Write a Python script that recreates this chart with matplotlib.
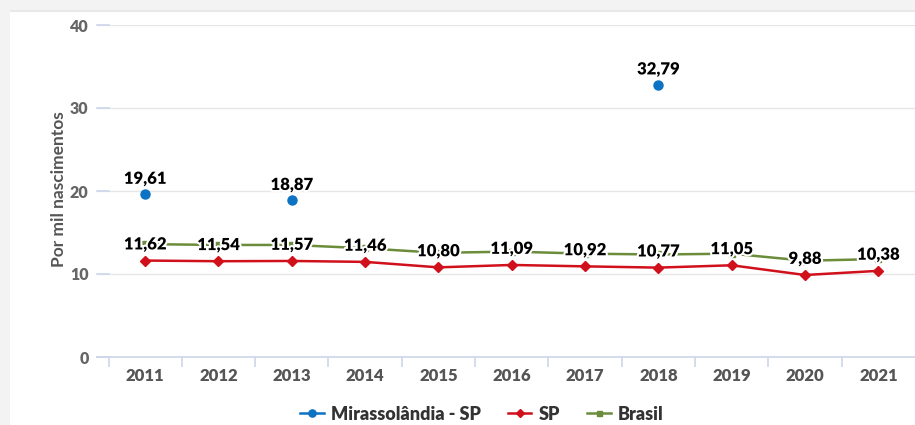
import numpy as np
import matplotlib
matplotlib.use("Agg")
import matplotlib.pyplot as plt
import matplotlib.patheffects as pe
from matplotlib.patches import Rectangle

years = ["2011", "2012", "2013", "2014", "2015", "2016", "2017", "2018", "2019", "2020", "2021"]
mirassolandia = [19.61, None, 18.87, None, None, None, None, 32.79, None, None, None]
sp = [11.62, 11.54, 11.57, 11.46, 10.80, 11.09, 10.92, 10.77, 11.05, 9.88, 10.38]
brasil = [13.6, 13.5, 13.5, 13.1, 12.55, 12.7, 12.45, 12.35, 12.45, 11.6, 11.8]
yticks = [0, 10, 20, 30, 40]

FONT = "Lato"
plt.rcParams['font.family'] = [FONT, 'DejaVu Sans']

W, H = 915, 425
fig = plt.figure(figsize=(W / 100, H / 100), dpi=100, facecolor="#f3f3f3")
fig.patches.append(Rectangle((10 / W, 0), 1, 1 - 12 / H, transform=fig.transFigure,
                             facecolor="white", edgecolor="none", zorder=-10))
fig.patches.append(Rectangle((10 / W, 1 - 12 / H), 1, 1.5 / H, transform=fig.transFigure,
                             facecolor="#e8e8e8", edgecolor="none", zorder=-10))

left_px, right_px, top_px, bot_px = 97, 915, 25, 357
ax = fig.add_axes([left_px / W, 1 - bot_px / H, (right_px - left_px) / W, (bot_px - top_px) / H])
ax.set_facecolor("none")

x = np.arange(len(years))
mir = np.array([np.nan if v is None else v for v in mirassolandia], dtype=float)

blue, red, green = "#0b72c4", "#d0101b", "#6b8c3a"

ax.plot(x, brasil, color=green, lw=1.8, marker="s", ms=4.5, zorder=3, label="Brasil")
ax.plot(x, sp, color=red, lw=1.8, marker="D", ms=5, zorder=4, label="SP")
ax.plot(x, mir, color=blue, lw=1.8, marker="o", ms=6.5, zorder=5, label="Mirassolândia - SP")

stroke = [pe.withStroke(linewidth=3, foreground="white")]

def fmt(v):
    return f"{v:.2f}".replace(".", ",")

for xi, v in zip(x, mir):
    if not np.isnan(v):
        ax.annotate(fmt(v), (xi, v), xytext=(0, 7.5), textcoords="offset points",
                    ha="center", va="baseline", fontsize=12, fontweight="heavy",
                    color="black", path_effects=stroke, zorder=7)
for xi, v in zip(x, sp):
    ax.annotate(fmt(v), (xi, v), xytext=(0, 8), textcoords="offset points",
                ha="center", va="baseline", fontsize=12, fontweight="heavy",
                color="black", path_effects=stroke, zorder=7)

pad = 11.5 / 73.3
ax.set_xlim(-0.5 - pad, len(years) - 0.5)
ax.set_ylim(0, 40)
ax.set_yticks(yticks)
ax.set_yticklabels([str(t) for t in yticks])
ax.set_xticks(x)
ax.set_xticklabels(years)
ax.set_xticks(np.arange(len(years)) - 0.5, minor=True)

for s in ["top", "right", "left"]:
    ax.spines[s].set_visible(False)
ax.spines["bottom"].set_color("#ccd6eb")
ax.spines["bottom"].set_linewidth(1.2)

ax.grid(axis="y", color="#e6e6e6", lw=1, zorder=0)
ax.set_axisbelow(True)
ax.tick_params(axis="y", length=0, pad=6, labelsize=11.5, labelcolor="#666666")
ax.tick_params(axis="x", which="major", length=0, pad=8, labelsize=12, labelcolor="#555555")
ax.tick_params(axis="x", which="minor", length=7, color="#ccd6eb", width=1.2)
for lbl in ax.get_yticklabels() + ax.get_xticklabels():
    lbl.set_fontweight("heavy")

# short gridline stubs left of first category
for t in yticks:
    ax.plot([-0.5 - pad, -0.5], [t, t], color="#ccd6eb", lw=1.2, zorder=1, clip_on=False)

ax.set_ylabel("Por mil nascimentos", fontsize=12.5, fontweight="bold", color="#555555")
ax.yaxis.set_label_coords(-30 / (right_px - left_px), 0.505)

handles, labels = ax.get_legend_handles_labels()
order = [2, 1, 0]
leg = fig.legend([handles[i] for i in order], [labels[i] for i in order], loc="center",
                 bbox_to_anchor=(482 / W, 1 - 414 / H), ncol=3, frameon=False,
                 handlelength=1.3, columnspacing=1.5, handletextpad=0.4, fontsize=13,
                 markerscale=0.8)
for t in leg.get_texts():
    t.set_fontweight("heavy")
    t.set_color("#333333")

fig.savefig("out.png", dpi=100, facecolor=fig.get_facecolor())
